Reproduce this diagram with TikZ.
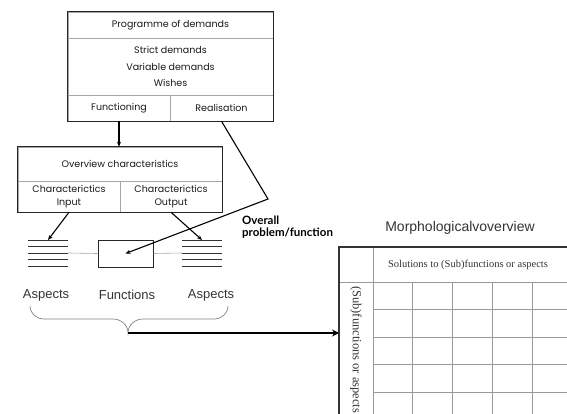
\documentclass[tikz,border=0pt]{standalone}
\usepackage{fontspec}
\newfontfamily\boxfont{Poppins}
\newfontfamily\labelfont{Liberation Sans}
\newfontfamily\serifface{Liberation Serif}
\newfontfamily\boldlabel{Lato}
\usetikzlibrary{arrows.meta}

\begin{document}
\begin{tikzpicture}[x=1pt, y=-1pt,
      cell/.style={draw=gray!70, line width=0.5pt, inner sep=0pt, align=center,
        text=black!90, font=\boxfont\fontsize{9.5}{13}\selectfont},
      boxframe/.style={line width=1.1pt, draw=black!85},
      link/.style={line width=1.1pt, -{Stealth[length=5pt,width=4pt]}},
      stackline/.style={line width=1pt, black!80},
      gridline/.style={gray!80, line width=0.6pt},
      caption/.style={text=black!80, font=\labelfont\fontsize{13}{15}\selectfont}]
    \useasboundingbox (0,0) rectangle (567,414);
    \clip (0,0) rectangle (567,414);

    % programme of demands
    \node[cell, minimum width=205pt, minimum height=26pt] (prog) at (170.5,25) {Programme of demands};
    \node[cell, minimum width=205pt, minimum height=57pt, font=\boxfont\fontsize{9.5}{16.5}\selectfont]
      (dem) at (170.5,66.5) {Strict demands\\Variable demands\\Wishes};
    \node[cell, minimum width=102pt, minimum height=26pt] (func) at (119,108) {Functioning};
    \node[cell, minimum width=103pt, minimum height=26pt] (real) at (221.5,108) {Realisation};
    \draw[boxframe] (prog.north west) rectangle (real.south east);

    % overview characteristics
    \node[cell, minimum width=204pt, minimum height=34pt] (ovw) at (120,164) {Overview characteristics};
    \node[cell, minimum width=102pt, minimum height=31pt] (cin) at (69,196.5) {Characterictics\\Input};
    \node[cell, minimum width=102pt, minimum height=31pt] (cout) at (171,196.5) {Characterictics\\Output};
    \draw[boxframe] (ovw.north west) rectangle (cout.south east);

    % aspects and functions
    \foreach \y in {240,246.5,253,259.5,266} {
      \draw[stackline] (28,\y) -- (68,\y);
      \draw[stackline] (182,\y) -- (222,\y);
    }
    \node[draw=black!85, line width=1pt, minimum width=55pt, minimum height=27pt] (fbox) at (125.5,253.5) {};
    \coordinate (lstack) at (48,240);
    \coordinate (rstack) at (202,240);
    \coordinate (lend) at (68,253);
    \coordinate (rend) at (182,253);
    \draw[gray!70, line width=0.6pt] (lend) -- (fbox.west);
    \draw[gray!70, line width=0.6pt] (fbox.east) -- (rend);

    \draw[link] (func.south) -- (func.south |- ovw.north);
    \coordinate (bend) at (268,199);
    \draw[link] (real.south) -- (bend) -- (fbox.center);
    \draw[link] (cin.south) -- (lstack);
    \draw[link] (cout.south) -- (rstack);

    \node[font=\boldlabel\bfseries\fontsize{11.5}{12}\selectfont, align=left, anchor=west, inner sep=0pt]
      (overall) at (242,227) {Overall\\problem/function};

    \node[caption] (asl) at (46,295) {Aspects};
    \node[caption] (fun) at (127,295) {Functions};
    \node[caption] (asr) at (211,295) {Aspects};

    % brace
    \coordinate (tip) at (128,333);
    \draw[gray, line width=0.7pt] (30,306) to[out=-90,in=180] (44,319) -- (113,319)
      to[out=0,in=90] (tip) to[out=90,in=180] (143,319) -- (214,319) to[out=0,in=-90] (228,306);

    % morphological overview
    \node[caption, font=\labelfont\fontsize{14}{16}\selectfont] (title) at (460,228) {Morphologicalvoverview};
    \foreach \x in {412,452,492,532} \draw[gridline] (\x,282) -- (\x,414);
    \foreach \y in {309,337,364,392} \draw[gridline] (373,\y) -- (567,\y);
    \draw[gridline] (339,282) -- (567,282);
    \draw[gridline] (373,247) -- (373,414);
    \draw[line width=1.1pt, black!80] (339,414) -- (339,247) -- (567,247);
    \coordinate (morph) at (339,333);
    \draw[line width=2.4pt, -{Stealth[length=7pt,width=7pt]}] (tip) -- (morph);
    \node[text=black!80, font=\serifface\fontsize{10.5}{12}\selectfont] (sol) at (468,265)
      {Solutions to (Sub)functions or aspects};
    \node[text=black!80, font=\serifface\fontsize{12.5}{14}\selectfont, rotate=-90, anchor=west, inner sep=0pt]
      (sub) at (356,286) {(Sub)functions or aspects};
\end{tikzpicture}
\end{document}
